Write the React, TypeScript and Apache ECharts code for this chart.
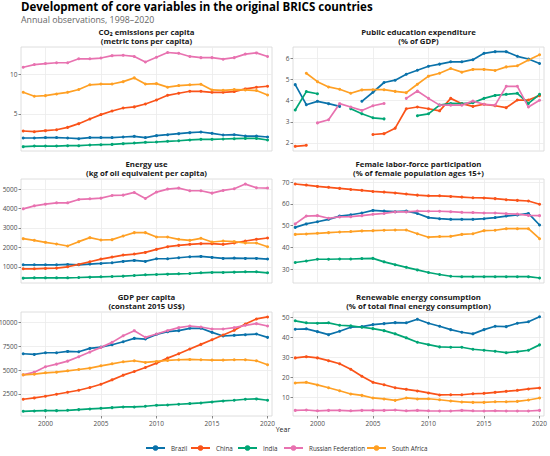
import { useEffect, useRef } from "react";
import * as echarts from "echarts";

const years = [1998,1999,2000,2001,2002,2003,2004,2005,2006,2007,2008,2009,2010,2011,2012,2013,2014,2015,2016,2017,2018,2019,2020];
const countries = ["Brazil", "China", "India", "Russian Federation", "South Africa"];
const colors = ["#0A72AA", "#FA5319", "#00A675", "#E872B0", "#FFA024"];

const yearTicks = [2000, 2005, 2010, 2015, 2020];
const co2Ticks = [5, 10];
const eduTicks = [2, 3, 4, 5, 6];
const energyTicks = [1000, 2000, 3000, 4000, 5000];
const flTicks = [30, 40, 50, 60, 70];
const gdpTicks = [2500, 5000, 7500, 10000];
const reTicks = [10, 20, 30, 40, 50];

const co2Brazil = [1.95,1.95,2.0,2.0,1.95,1.86,2.0,2.0,2.0,2.08,2.16,2.0,2.25,2.37,2.5,2.63,2.71,2.54,2.33,2.37,2.2,2.2,2.08];
const co2China = [2.84,2.75,2.88,3.0,3.3,3.77,4.36,4.92,5.38,5.76,5.9,6.27,6.78,7.37,7.63,7.88,7.88,7.75,7.75,7.84,8.18,8.39,8.52];
const co2India = [0.85,0.93,0.93,0.93,0.97,0.97,1.06,1.1,1.14,1.23,1.31,1.4,1.44,1.53,1.6,1.7,1.78,1.78,1.82,1.86,1.9,1.9,1.7];
const co2Russia = [10.93,11.27,11.4,11.5,11.5,12.0,12.0,12.1,12.4,12.45,12.3,11.6,12.2,12.8,12.7,12.3,12.15,12.15,11.95,12.15,12.6,12.75,12.3];
const co2SouthAfrica = [7.75,7.25,7.33,7.54,7.75,8.1,8.7,8.8,8.8,9.1,9.58,8.8,8.85,8.4,8.6,8.7,8.77,8.05,8.0,8.1,8.05,7.97,7.4];

const eduBrazil = [4.76,3.81,3.97,3.86,3.73,null,3.97,4.4,4.86,4.97,5.25,5.44,5.63,5.73,5.84,5.84,5.94,6.24,6.32,6.32,6.1,5.97,5.76];
const eduChina = [1.84,1.89,null,null,null,null,null,2.4,2.44,2.7,3.62,3.7,3.62,3.52,4.11,3.86,3.73,3.83,3.76,3.67,4.03,4.03,4.24];
const eduIndia = [3.56,4.43,4.33,null,null,3.62,3.38,3.19,3.14,null,null,3.29,3.38,3.79,3.87,3.86,3.9,4.11,4.25,4.3,4.35,3.87,4.3];
const eduRussia = [null,null,2.95,3.1,3.86,3.7,3.54,3.76,3.87,null,4.11,4.46,4.11,3.79,3.79,3.79,3.98,3.83,3.79,4.68,4.68,3.7,4.02];
const eduSouthAfrica = [null,5.3,4.9,4.65,4.54,4.35,4.51,4.52,4.52,4.44,4.38,4.78,5.16,5.3,5.52,5.35,5.48,5.48,5.43,5.6,5.65,5.92,6.17];

const enBrazil = [1103,1103,1103,1103,1121,1103,1138,1172,1207,1276,1328,1276,1414,1414,1466,1517,1534,1483,1431,1448,1431,1431,1397];
const enChina = [897,897,914,931,1000,1121,1259,1397,1500,1603,1655,1741,1897,2034,2103,2155,2190,2190,2155,2224,2328,2414,2483];
const enIndia = [414,431,431,431,431,448,466,483,500,517,552,586,603,621,638,655,690,707,707,724,741,741,690];
const enRussia = [3983,4138,4224,4293,4293,4466,4500,4534,4672,4690,4828,4517,4845,5000,5052,4914,4914,4793,4931,5017,5259,5069,5052];
const enSouthAfrica = [2448,2362,2259,2172,2069,2293,2500,2379,2396,2586,2759,2759,2534,2534,2414,2362,2466,2276,2328,2293,2224,2224,2034];

const flBrazil = [49.2,50.8,51.8,52.9,54.4,55.0,55.8,57.0,56.7,56.4,56.7,55.6,53.7,53.2,52.9,52.9,52.9,53.2,53.7,54.4,54.9,55.6,50.3];
const flChina = [69.1,68.6,68.0,67.6,67.1,66.6,66.2,65.7,65.4,65.0,64.5,64.0,63.7,63.7,63.4,63.1,62.8,62.7,62.4,61.9,61.6,61.3,59.8];
const flIndia = [33.1,33.8,34.6,34.6,34.7,34.7,34.9,35.0,33.4,32.1,30.9,29.7,28.5,27.6,26.8,26.6,26.6,26.6,26.6,26.6,26.6,26.6,26.0];
const flRussia = [50.8,54.4,54.6,53.4,54.0,54.1,54.6,55.2,55.6,56.3,56.3,56.7,56.6,56.6,56.4,56.1,56.0,55.8,55.8,55.5,55.3,54.7,54.6];
const flSouthAfrica = [46.0,46.2,46.5,46.8,47.1,47.3,47.6,47.7,47.9,48.0,48.0,46.3,44.7,45.0,45.1,46.0,46.3,47.7,47.9,48.6,48.6,48.6,44.0];

const gdpBrazil = [6704,6634,6809,6809,6950,6915,7265,7405,7650,7966,8317,8247,8738,9018,9123,9369,9369,8948,8562,8633,8703,8773,8422];
const gdpChina = [1935,2075,2251,2461,2671,2882,3163,3513,3969,4460,4846,5267,5722,6248,6704,7195,7686,8177,8668,9159,9825,10351,10561];
const gdpIndia = [673,708,743,743,778,849,919,989,1059,1129,1129,1199,1304,1339,1409,1479,1550,1655,1760,1830,1935,1970,1830];
const gdpRussia = [4495,4776,5337,5617,5932,6388,6879,7370,7896,8597,9123,8422,8773,9123,9439,9614,9509,9299,9299,9439,9684,9860,9614];
const gdpSouthAfrica = [4495,4565,4706,4776,4916,5056,5196,5442,5652,5862,5968,5792,5898,6003,6073,6108,6073,6038,6038,6073,6073,5968,5547];

const reBrazil = [44.0,44.2,42.8,41.3,43.0,45.0,45.3,46.3,46.8,47.3,47.2,49.0,47.0,45.5,43.8,42.5,41.7,43.8,45.5,45.3,47.0,47.7,50.2];
const reChina = [29.7,30.3,29.7,28.3,26.8,24.0,20.5,17.5,16.3,14.8,14.0,13.2,12.2,11.2,11.3,11.3,11.8,12.0,12.5,13.0,13.5,14.2,14.7];
const reIndia = [48.2,47.2,47.0,47.2,46.0,45.7,45.0,44.3,43.3,41.7,39.7,37.5,36.3,35.2,35.0,35.0,34.0,33.5,33.0,32.3,32.8,33.5,36.2];
const reRussia = [3.5,3.7,3.3,3.5,3.5,3.3,3.5,3.5,3.5,3.7,3.3,3.5,3.3,3.2,3.2,3.5,3.3,3.2,3.3,3.2,3.2,3.2,3.5];
const reSouthAfrica = [17.2,17.5,16.2,14.8,13.3,11.7,11.0,9.7,9.2,8.5,9.7,9.2,9.3,8.8,8.2,7.7,7.5,7.5,7.8,7.8,8.0,8.7,9.7];

const FONT = "Open Sans";

export default function App() {
  const ref = useRef<HTMLDivElement>(null);
  useEffect(() => {
    if (!ref.current) return;
    const chart = echarts.init(ref.current, undefined, { renderer: "svg" });

    const PW = 251;
    const PH = 104;
    const colX = [21, 293];
    const rowY = [47, 179, 312];

    const panels = [
      { title: "CO\u2082 emissions per capita\n(metric tons per capita)", data: [co2Brazil, co2China, co2India, co2Russia, co2SouthAfrica], min: 0.3, max: 13.5, ticks: co2Ticks, col: 0, row: 0 },
      { title: "Public education expenditure\n(% of GDP)", data: [eduBrazil, eduChina, eduIndia, eduRussia, eduSouthAfrica], min: 1.62, max: 6.54, ticks: eduTicks, col: 1, row: 0 },
      { title: "Energy use\n(kg of oil equivalent per capita)", data: [enBrazil, enChina, enIndia, enRussia, enSouthAfrica], min: 165, max: 5520, ticks: energyTicks, col: 0, row: 1 },
      { title: "Female labor-force participation\n(% of female population ages 15+)", data: [flBrazil, flChina, flIndia, flRussia, flSouthAfrica], min: 23.7, max: 71.4, ticks: flTicks, col: 1, row: 1 },
      { title: "GDP per capita\n(constant 2015 US$)", data: [gdpBrazil, gdpChina, gdpIndia, gdpRussia, gdpSouthAfrica], min: 180, max: 11080, ticks: gdpTicks, col: 0, row: 2 },
      { title: "Renewable energy consumption\n(% of total final energy consumption)", data: [reBrazil, reChina, reIndia, reRussia, reSouthAfrica], min: 0.7, max: 52.6, ticks: reTicks, col: 1, row: 2 },
    ];

    const grid: any[] = [];
    const xAxis: any[] = [];
    const yAxis: any[] = [];
    const series: any[] = [];
    const graphic: any[] = [];

    panels.forEach((p, i) => {
      const left = colX[p.col];
      const top = rowY[p.row];
      grid.push({
        left, top, width: PW, height: PH,
        show: true, borderColor: "#d6d6d6", borderWidth: 0.8, backgroundColor: "transparent",
        containLabel: false, outerBoundsMode: "none",
      });
      const bottomRow = p.row === 2;
      xAxis.push({
        type: "value", gridIndex: i, min: 1997.8, max: 2020.4,
        axisLine: { show: false },
        axisTick: { show: bottomRow, customValues: yearTicks, length: 2.5, lineStyle: { color: "#555", width: 0.7 } },
        axisLabel: { show: bottomRow, customValues: yearTicks, fontSize: 6.5, color: "#4d4d4d", fontFamily: FONT, margin: 3.5, formatter: (v: number) => String(v) },
        splitLine: { show: true, lineStyle: { color: "#ebebeb", width: 0.8 } },
      });
      yAxis.push({
        type: "value", gridIndex: i, min: p.min, max: p.max,
        axisLine: { show: false },
        axisTick: { show: true, customValues: p.ticks, length: 2.5, lineStyle: { color: "#555", width: 0.7 } },
        axisLabel: { show: true, customValues: p.ticks, fontSize: 6.5, color: "#4d4d4d", fontFamily: FONT, margin: 3.5, formatter: (v: number) => String(v) },
        splitLine: { show: true, lineStyle: { color: "#ebebeb", width: 0.8 } },
      });
      p.data.forEach((vals, k) => {
        series.push({
          type: "line", name: countries[k], xAxisIndex: i, yAxisIndex: i,
          data: years.map((y, j) => [y, vals[j] == null ? "-" : vals[j]]),
          symbol: "circle", symbolSize: 3, showSymbol: true, connectNulls: false,
          lineStyle: { color: colors[k], width: 1.7 },
          itemStyle: { color: colors[k] },
          emphasis: { disabled: true },
        });
      });
      graphic.push({
        type: "text", x: left + PW / 2, y: top - 10.5,
        style: { text: p.title, fill: "#1a1a1a", fontSize: 7.8, fontWeight: "bold", fontFamily: FONT, align: "center", textAlign: "center", verticalAlign: "middle", textVerticalAlign: "middle", lineHeight: 9.3 },
      });
    });

    graphic.push({
      type: "text", x: 21, y: 6.8,
      style: { text: "Development of core variables in the original BRICS countries", fill: "#000", fontSize: 11.5, fontWeight: "bold", fontFamily: FONT, align: "left", textAlign: "left", verticalAlign: "middle", textVerticalAlign: "middle" },
    });
    graphic.push({
      type: "text", x: 21, y: 20.3,
      style: { text: "Annual observations, 1998\u20132020", fill: "#666", fontSize: 8.8, fontFamily: FONT, align: "left", textAlign: "left", verticalAlign: "middle", textVerticalAlign: "middle" },
    });
    graphic.push({
      type: "text", x: 283, y: 429.5,
      style: { text: "Year", fill: "#1a1a1a", fontSize: 7, fontFamily: FONT, align: "center", textAlign: "center", verticalAlign: "middle", textVerticalAlign: "middle" },
    });

    const legendLefts = [145, 190, 237, 283, 366];
    const legend = countries.map((c, k) => ({
      data: [c], left: legendLefts[k], top: 445, itemWidth: 19, itemHeight: 7, padding: 0,
      textStyle: { fontSize: 6.3, color: "#333", fontFamily: FONT, padding: [0, 0, 0, 1] },
      selectedMode: false,
    }));

    chart.setOption({
      animation: false,
      textStyle: { fontFamily: FONT },
      grid, xAxis, yAxis, series, graphic, legend,
    });
    return () => chart.dispose();
  }, []);
  return <div ref={ref} style={{ position: "fixed", left: 0, top: 0, width: 550, height: 456, background: "#fff" }} />;
}
